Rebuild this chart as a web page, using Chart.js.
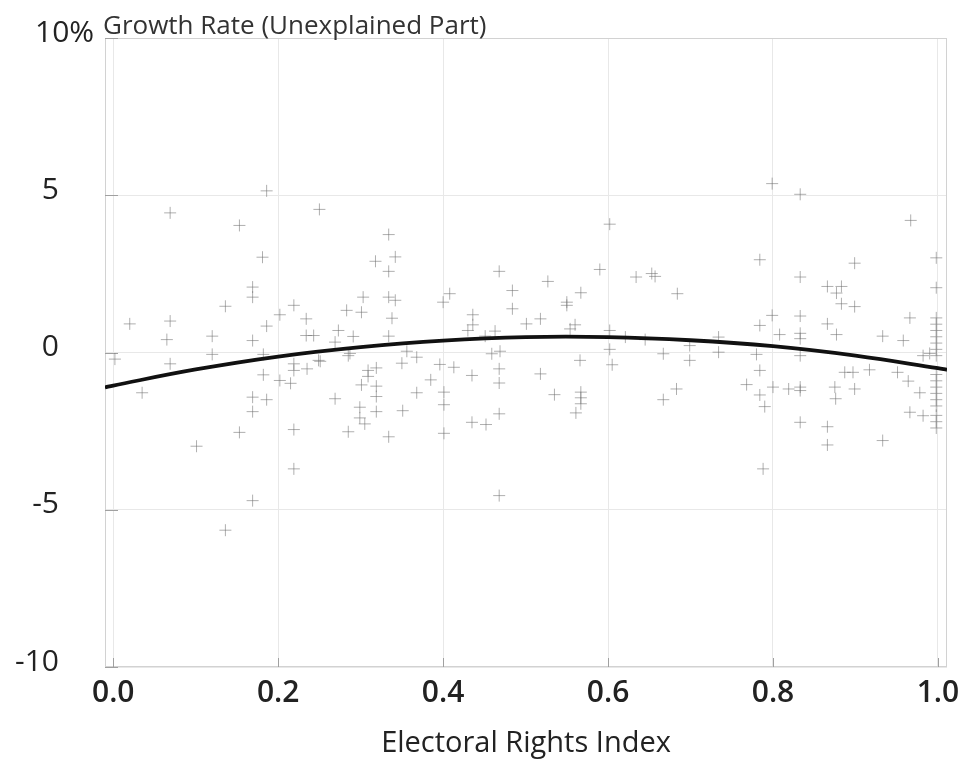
<!DOCTYPE html>
<html>
<head>
<meta charset="utf-8">
<script src="https://cdn.jsdelivr.net/npm/chart.js@4"></script>
<style>
  body { margin: 0; background: #fff; }
  canvas { display: block; }
</style>
</head>
<body>
<canvas id="rightsChart" width="965" height="765"></canvas>
<script>
// scatter: electoral rights index vs unexplained growth (percent)
const rightsIndex = [
  0.186, 0.069, 0.153, 0.181, 0.169, 0.169, 0.136, 0.219, 0.020, 0.069, 0.202, 0.234, 0.186, 0.065, 0.120,
  0.169, 0.234, 0.243, 0.120, 0.002, 0.182, 0.250,
  0.069, 0.035, 0.182, 0.202, 0.215, 0.219, 0.219, 0.235, 0.249, 0.169, 0.186, 0.169, 0.153, 0.101,
  0.219, 0.219, 0.169, 0.136,
  0.334, 0.318, 0.342, 0.334, 0.468, 0.484, 0.484, 0.303, 0.334, 0.342, 0.408, 0.400, 0.283, 0.301,
  0.338, 0.436, 0.436, 0.430, 0.463, 0.451, 0.273, 0.291, 0.269, 0.334, 0.356, 0.368, 0.459, 0.469, 0.287,
  0.251, 0.285, 0.350, 0.396, 0.413, 0.309, 0.319, 0.309, 0.435, 0.468, 0.385, 0.301, 0.319, 0.468,
  0.319, 0.368, 0.401, 0.401, 0.269, 0.299, 0.319, 0.351, 0.468, 0.299, 0.305, 0.285, 0.334, 0.401,
  0.435, 0.452, 0.468,
  0.602, 0.590, 0.527, 0.634, 0.653, 0.657, 0.684, 0.567, 0.550, 0.550, 0.501, 0.518, 0.554, 0.560,
  0.602, 0.621, 0.645, 0.734, 0.602, 0.667, 0.699, 0.699, 0.734, 0.566,
  0.605, 0.518, 0.535, 0.567, 0.567, 0.567, 0.561, 0.683, 0.667,
  0.799, 0.833, 0.967, 0.784, 0.899, 0.998, 0.833, 0.998, 0.866, 0.883, 0.877, 0.883, 0.899, 0.799,
  0.833, 0.784, 0.866, 0.966, 0.808, 0.833, 0.833, 0.877, 0.933, 0.958,
  0.998, 0.998, 0.998, 0.998, 0.998, 0.998, 0.998, 0.780, 0.833, 0.982, 0.990,
  0.784, 0.887, 0.897, 0.917, 0.951, 0.964, 0.768, 0.800, 0.819, 0.833, 0.833, 0.875, 0.899, 0.784,
  0.876, 0.978, 0.790, 0.966, 0.982, 0.833, 0.866, 0.866, 0.933, 0.788,
  0.998, 0.998, 0.998, 0.998, 0.998, 0.998, 0.998, 0.998, 0.998
];
const growthResidual = [
  5.14, 4.44, 4.04, 3.03, 2.08, 1.76, 1.47, 1.50, 0.91, 1.00, 1.20, 1.07, 0.84, 0.41, 0.52,
  0.38, 0.54, 0.54, -0.06, -0.21, -0.06, 4.55,
  -0.36, -1.28, -0.71, -0.89, -0.98, -0.36, -0.57, -0.52, -0.25, -1.42, -1.50, -1.88, -2.54, -2.98,
  -2.45, -3.70, -4.71, -5.65,
  3.75, 2.90, 3.04, 2.58, 2.58, 1.97, 1.39, 1.76, 1.76, 1.66, 1.87, 1.60, 1.34, 1.28,
  1.09, 1.20, 0.88, 0.70, 0.68, 0.52, 0.70, 0.51, 0.33, 0.52, 0.04, -0.15, -0.04, 0.04, -0.03,
  -0.28, -0.10, -0.34, -0.38, -0.47, -0.57, -0.49, -0.76, -0.73, -0.52, -0.87, -1.03, -1.07, -0.97,
  -1.40, -1.28, -1.26, -1.66, -1.47, -1.74, -1.88, -1.85, -1.95, -2.08, -2.27, -2.52, -2.68, -2.57,
  -2.22, -2.29, -4.55,
  4.08, 2.64, 2.26, 2.40, 2.51, 2.42, 1.87, 1.90, 1.60, 1.50, 0.91, 1.07, 0.75, 0.88,
  0.70, 0.49, 0.41, 0.49, 0.10, -0.04, 0.22, -0.25, 0.01, -0.25,
  -0.39, -0.68, -1.34, -1.26, -1.44, -1.63, -1.92, -1.16, -1.50,
  5.37, 5.03, 4.20, 2.95, 2.84, 3.01, 2.40, 2.06, 2.10, 2.10, 1.89, 1.55, 1.46, 1.18,
  1.16, 0.86, 0.91, 1.10, 0.57, 0.61, 0.44, 0.57, 0.52, 0.38,
  1.10, 0.90, 0.70, 0.50, 0.30, 0.10, -0.10, -0.06, -0.10, -0.10, -0.03,
  -0.57, -0.63, -0.63, -0.55, -0.63, -0.91, -1.02, -1.10, -1.16, -1.10, -1.21, -1.10, -1.16, -1.35,
  -1.47, -1.28, -1.72, -1.90, -2.01, -2.22, -2.36, -2.94, -2.80, -3.70,
  -0.70, -0.90, -1.10, -1.30, -1.50, -1.70, -2.00, -2.20, -2.40
];

// fitted curve
const fitX = [-0.01, 0.0, 0.1, 0.2, 0.3, 0.4, 0.5, 0.6, 0.7, 0.8, 0.9, 1.0, 1.011];
const fitY = [-1.11, -1.05, -0.54, -0.13, 0.17, 0.38, 0.49, 0.49, 0.39, 0.20, -0.10, -0.50, -0.55];

const xTickValues = [0, 0.2, 0.4, 0.6, 0.8, 1.0];
const xTickLabels = ['0.0', '0.2', '0.4', '0.6', '0.8', '1.0'];
const yTickValues = [-10, -5, 0, 5, 10];
const yTickLabels = ['-10', '-5', '0', '5', '10%'];

const chartTitle = 'Growth Rate (Unexplained Part)';
const xTitle = 'Electoral Rights Index';

const points = rightsIndex.map((x, i) => ({ x: x, y: growthResidual[i] }));
const fitLine = fitX.map((x, i) => ({ x: x, y: fitY[i] }));

const frame = {
  id: 'frame',
  beforeDatasetsDraw(chart) {
    const { ctx, chartArea: a, scales } = chart;
    ctx.save();
    ctx.strokeStyle = '#d2d2d2';
    ctx.lineWidth = 1;
    ctx.strokeRect(a.left + 0.5, a.top + 0.5, a.width - 1, a.height - 1);
    ctx.strokeStyle = '#a0a0a0';
    ctx.beginPath();
    xTickValues.forEach(v => {
      const px = Math.round(scales.x.getPixelForValue(v)) + 0.5;
      ctx.moveTo(px, a.bottom);
      ctx.lineTo(px, a.bottom - 9);
    });
    yTickValues.forEach(v => {
      const py = Math.round(scales.y.getPixelForValue(v)) + 0.5;
      ctx.moveTo(a.left, py);
      ctx.lineTo(a.left + 13, py);
    });
    ctx.stroke();
    ctx.restore();
  },
  afterDraw(chart) {
    const { ctx, chartArea: a, scales } = chart;
    ctx.save();
    ctx.fillStyle = '#222';
    ctx.textBaseline = 'middle';
    ctx.textAlign = 'left';
    ctx.font = '30px "Open Sans"';
    ctx.fillText(yTickLabels[4], 35, scales.y.getPixelForValue(10) - 5);
    ctx.font = '26px "Open Sans"';
    ctx.fillStyle = '#333';
    ctx.textBaseline = 'alphabetic';
    ctx.fillText(chartTitle, a.left - 2, 34);
    ctx.restore();
  }
};

function noEdgePadding(s) {
  s.paddingTop = 0;
  s.paddingBottom = 0;
  s.paddingLeft = 0;
  s.paddingRight = 0;
}

new Chart(document.getElementById('rightsChart').getContext('2d'), {
  type: 'scatter',
  data: {
    datasets: [
      {
        data: fitLine,
        showLine: true,
        borderColor: '#111',
        borderWidth: 3.8,
        pointRadius: 0,
        tension: 0.4,
        order: 0
      },
      {
        data: points,
        pointStyle: 'cross',
        pointRadius: 6,
        borderWidth: 1,
        borderColor: 'rgba(110,110,110,0.55)',
        order: 1
      }
    ]
  },
  options: {
    responsive: false,
    animation: false,
    layout: { padding: { top: 38, right: 18, left: 0, bottom: 0 } },
    plugins: {
      legend: { display: false },
      tooltip: { enabled: false }
    },
    scales: {
      x: {
        type: 'linear',
        min: -0.01,
        max: 1.011,
        afterBuildTicks: s => { s.ticks = xTickValues.map(v => ({ value: v })); },
        afterFit: s => { s.height = 98; noEdgePadding(s); },
        grid: { color: '#e8e8e8', drawTicks: false },
        border: { display: false },
        ticks: {
          padding: 8,
          color: '#222',
          font: { family: 'Open Sans', size: 30, weight: 600 },
          callback: v => xTickLabels[xTickValues.indexOf(v)]
        },
        title: {
          display: true,
          text: xTitle,
          color: '#222',
          font: { family: 'Open Sans', size: 29 },
          padding: { top: 0, bottom: 4 }
        }
      },
      y: {
        min: -10,
        max: 10,
        afterBuildTicks: s => { s.ticks = yTickValues.map(v => ({ value: v })); },
        afterFit: s => { s.width = 105; noEdgePadding(s); },
        grid: { color: '#e8e8e8', drawTicks: false },
        border: { display: false },
        ticks: {
          padding: 46,
          labelOffset: -5,
          color: '#222',
          font: { family: 'Open Sans', size: 30 },
          callback: v => (v === 10 ? '' : yTickLabels[yTickValues.indexOf(v)])
        }
      }
    }
  },
  plugins: [frame]
});
</script>
</body>
</html>
